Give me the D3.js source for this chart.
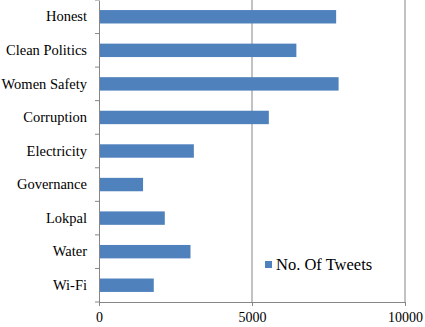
<!DOCTYPE html>
<html>
<head>
<meta charset="utf-8">
<script src="https://cdn.jsdelivr.net/npm/d3@7"></script>
</head>
<body style="margin:0; background:#fff">
<svg id="chart" width="425" height="327" font-family="Liberation Serif" style="font-family:'Liberation Serif'"></svg>
<script>
const categories = ["Honest", "Clean Politics", "Women Safety", "Corruption", "Electricity",
    "Governance", "Lokpal", "Water", "Wi-Fi"];
const tweets = [7750, 6450, 7830, 5550, 3100, 1440, 2150, 2990, 1790];
const xTicks = [0, 5000, 10000];
const seriesName = "No. Of Tweets";

const margin = {top: 0, right: 20, bottom: 25, left: 99};

const svg = d3.select("#chart")
    .append("g")
    .attr("transform", `translate(${margin.left},${margin.top})`);

const x = d3.scaleLinear().domain([0, 10000]).range([0, 306]);
const y = d3.scaleBand().domain(categories).range([0, 302]).paddingInner(0.6).paddingOuter(0.3);

// gridlines
svg.append("g")
    .selectAll("line")
    .data(xTicks.slice(1))
    .enter()
    .append("line")
    .attr("x1", d => x(d)).attr("x2", d => x(d))
    .attr("y1", 0).attr("y2", 302)
    .attr("stroke", "#868686")
    .attr("stroke-width", 1);

// bars
svg.append("g")
    .selectAll("rect")
    .data(tweets)
    .enter()
    .append("rect")
    .attr("x", x(0))
    .attr("y", (d, i) => y(categories[i]))
    .attr("width", d => x(d) - x(0))
    .attr("height", y.bandwidth())
    .attr("fill", "#4F81BD");

// y axis
const yAxis = svg.append("g")
    .call(d3.axisLeft(y).tickSize(0).tickPadding(12))
    .attr("font-family", "Liberation Serif")
    .attr("font-size", 14.5);
yAxis.select(".domain").attr("stroke", "#868686");
yAxis.selectAll("text").attr("fill", "#000");

// y category separators
const step = 302 / categories.length;
svg.append("g")
    .selectAll("line")
    .data(d3.range(categories.length + 1))
    .enter()
    .append("line")
    .attr("x1", -4).attr("x2", 0)
    .attr("y1", d => d * step).attr("y2", d => d * step)
    .attr("stroke", "#868686");

// x axis
const xAxis = svg.append("g")
    .attr("transform", "translate(0,302)")
    .call(d3.axisBottom(x).tickValues(xTicks).tickFormat(d3.format("d")).tickSize(4).tickPadding(6))
    .attr("font-family", "Liberation Serif")
    .attr("font-size", 14);
xAxis.select(".domain").attr("stroke", "#868686");
xAxis.selectAll("line").attr("stroke", "#868686");
xAxis.selectAll("text").attr("fill", "#000");

// legend
const legend = svg.append("g").attr("transform", "translate(166,264)");
legend.append("rect")
    .attr("x", 0).attr("y", -3)
    .attr("width", 7).attr("height", 7)
    .attr("fill", "#4F81BD");
legend.append("text")
    .attr("x", 11).attr("y", 0)
    .attr("dy", "0.35em")
    .attr("font-size", 16.5)
    .attr("fill", "#000")
    .text(seriesName);
</script>
</body>
</html>
